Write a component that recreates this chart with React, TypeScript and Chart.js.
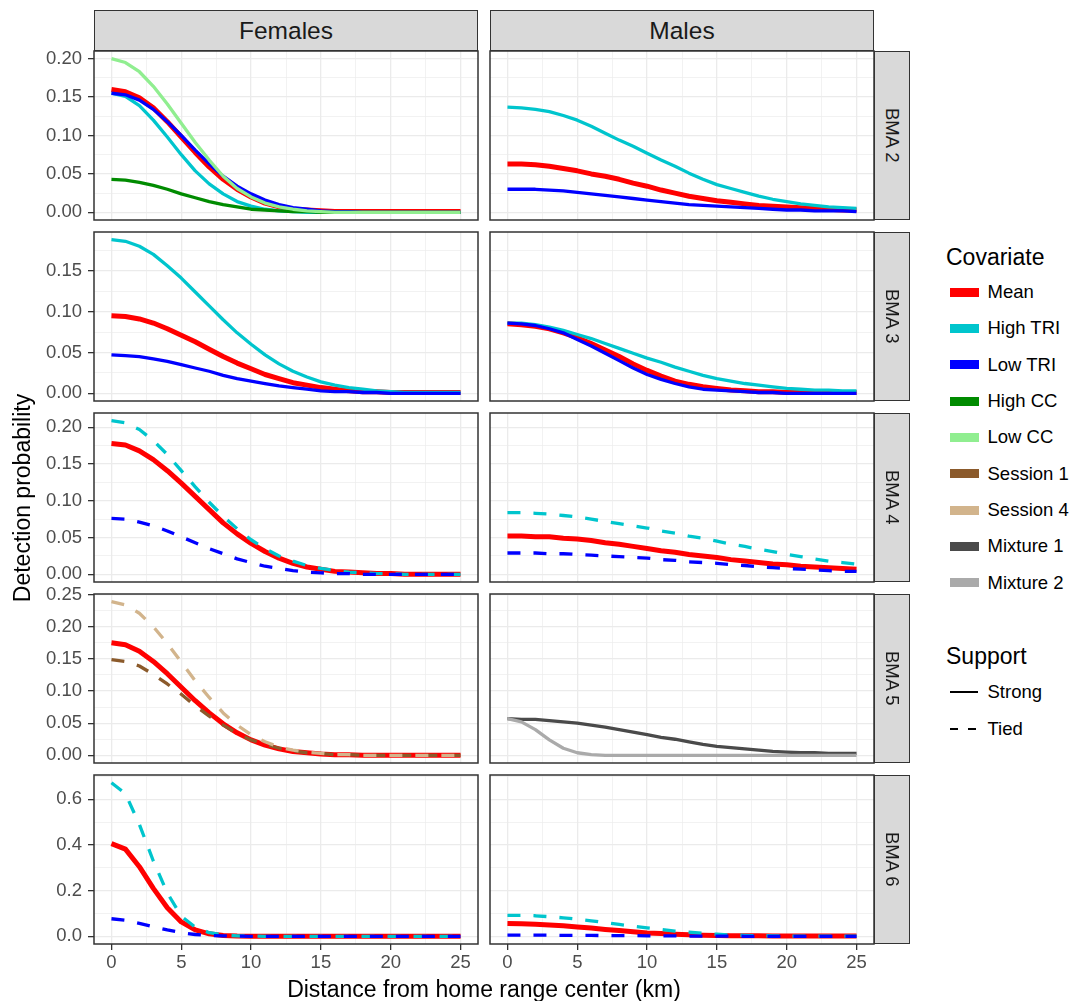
import React, { useEffect, useRef } from "react";
import { Chart, registerables } from "chart.js";

Chart.register(...registerables);

const FONT = "'Liberation Sans', Arial, Helvetica, sans-serif";

// ---------- data ----------
const DIST = [0, 1, 2, 3, 4, 5, 6, 7, 8, 9, 10, 11, 12, 13, 14, 15, 16, 17, 18, 19, 20, 21, 22, 23, 24, 25];

const COVARIATES = ["Mean", "High TRI", "Low TRI", "High CC", "Low CC", "Session 1", "Session 4", "Mixture 1", "Mixture 2"];
const COLORS = ["#FF0000", "#00C5CD", "#0000FF", "#008B00", "#90EE90", "#8B5A2B", "#D2B48C", "#4A4A4A", "#AAAAAA"];
const SUPPORT = ["Strong", "Tied"];
const COL_LABELS = ["Females", "Males"];
const ROW_LABELS = ["BMA 2", "BMA 3", "BMA 4", "BMA 5", "BMA 6"];

const X_MAJOR = [0, 5, 10, 15, 20, 25];
const X_MINOR = [2.5, 7.5, 12.5, 17.5, 22.5];
const Y_MAJOR = [
  [0, 0.05, 0.1, 0.15, 0.2],
  [0, 0.05, 0.1, 0.15],
  [0, 0.05, 0.1, 0.15, 0.2],
  [0, 0.05, 0.1, 0.15, 0.2, 0.25],
  [0, 0.2, 0.4, 0.6],
];
const Y_MINOR = [
  [0.025, 0.075, 0.125, 0.175],
  [0.025, 0.075, 0.125, 0.175],
  [0.025, 0.075, 0.125, 0.175],
  [0.025, 0.075, 0.125, 0.175, 0.225],
  [0.1, 0.3, 0.5, 0.7],
];
const Y_DIGITS = [2, 2, 2, 2, 1];

// Females, BMA 2
const F2_MEAN = [0.160, 0.157, 0.149, 0.136, 0.118, 0.098, 0.078, 0.059, 0.043, 0.030, 0.020, 0.012, 0.007, 0.004, 0.003, 0.002, 0.001, 0.001, 0.001, 0.001, 0.001, 0.001, 0.001, 0.001, 0.001, 0.001];
const F2_HIGH_TRI = [0.155, 0.151, 0.139, 0.120, 0.098, 0.075, 0.054, 0.037, 0.024, 0.014, 0.008, 0.004, 0.002, 0.001, 0, 0, 0, 0, 0, 0, 0, 0, 0, 0, 0, 0];
const F2_LOW_TRI = [0.155, 0.153, 0.146, 0.134, 0.118, 0.100, 0.081, 0.063, 0.047, 0.034, 0.024, 0.016, 0.010, 0.006, 0.004, 0.002, 0.001, 0.001, 0, 0, 0, 0, 0, 0, 0, 0];
const F2_HIGH_CC = [0.043, 0.042, 0.039, 0.035, 0.030, 0.024, 0.019, 0.014, 0.010, 0.007, 0.004, 0.003, 0.002, 0.001, 0.001, 0, 0, 0, 0, 0, 0, 0, 0, 0, 0, 0];
const F2_LOW_CC = [0.200, 0.195, 0.183, 0.164, 0.141, 0.116, 0.091, 0.068, 0.047, 0.031, 0.020, 0.012, 0.007, 0.004, 0.002, 0.001, 0, 0, 0, 0, 0, 0, 0, 0, 0, 0];
// Males, BMA 2
const M2_MEAN = [0.063, 0.063, 0.062, 0.060, 0.057, 0.054, 0.050, 0.047, 0.043, 0.038, 0.034, 0.029, 0.025, 0.021, 0.018, 0.015, 0.013, 0.011, 0.009, 0.008, 0.007, 0.006, 0.005, 0.004, 0.003, 0.003];
const M2_HIGH_TRI = [0.137, 0.136, 0.134, 0.131, 0.126, 0.120, 0.112, 0.103, 0.094, 0.086, 0.077, 0.068, 0.060, 0.051, 0.043, 0.036, 0.031, 0.026, 0.021, 0.017, 0.014, 0.011, 0.009, 0.007, 0.006, 0.005];
const M2_LOW_TRI = [0.030, 0.030, 0.030, 0.029, 0.028, 0.026, 0.024, 0.022, 0.020, 0.018, 0.016, 0.014, 0.012, 0.010, 0.009, 0.008, 0.007, 0.006, 0.005, 0.004, 0.003, 0.003, 0.002, 0.002, 0.002, 0.001];
// Females, BMA 3
const F3_MEAN = [0.095, 0.094, 0.091, 0.086, 0.079, 0.071, 0.063, 0.054, 0.045, 0.037, 0.030, 0.023, 0.018, 0.013, 0.010, 0.007, 0.005, 0.003, 0.002, 0.002, 0.001, 0.001, 0.001, 0.001, 0.001, 0.001];
const F3_HIGH_TRI = [0.188, 0.186, 0.180, 0.170, 0.156, 0.141, 0.124, 0.107, 0.090, 0.074, 0.060, 0.047, 0.036, 0.027, 0.020, 0.014, 0.010, 0.007, 0.005, 0.003, 0.002, 0.001, 0.001, 0.001, 0.001, 0.001];
const F3_LOW_TRI = [0.047, 0.046, 0.045, 0.042, 0.039, 0.035, 0.031, 0.027, 0.022, 0.018, 0.015, 0.012, 0.009, 0.007, 0.005, 0.003, 0.002, 0.002, 0.001, 0.001, 0, 0, 0, 0, 0, 0];
// Males, BMA 3
const M3_MEAN = [0.085, 0.084, 0.082, 0.079, 0.074, 0.068, 0.061, 0.053, 0.045, 0.036, 0.028, 0.021, 0.015, 0.011, 0.008, 0.006, 0.004, 0.003, 0.002, 0.002, 0.001, 0.001, 0.001, 0.001, 0.001, 0.001];
const M3_HIGH_TRI = [0.086, 0.086, 0.084, 0.081, 0.077, 0.072, 0.067, 0.061, 0.055, 0.049, 0.043, 0.038, 0.032, 0.027, 0.022, 0.018, 0.015, 0.012, 0.010, 0.008, 0.006, 0.005, 0.004, 0.004, 0.003, 0.003];
const M3_LOW_TRI = [0.086, 0.085, 0.083, 0.079, 0.074, 0.066, 0.058, 0.049, 0.040, 0.031, 0.023, 0.017, 0.012, 0.008, 0.005, 0.004, 0.003, 0.002, 0.001, 0.001, 0, 0, 0, 0, 0, 0];
// Females, BMA 4
const F4_MEAN = [0.178, 0.176, 0.168, 0.156, 0.141, 0.124, 0.106, 0.088, 0.070, 0.055, 0.042, 0.031, 0.022, 0.015, 0.010, 0.007, 0.004, 0.003, 0.002, 0.001, 0.001, 0, 0, 0, 0, 0];
const F4_HIGH_TRI = [0.209, 0.206, 0.197, 0.182, 0.163, 0.141, 0.119, 0.098, 0.079, 0.062, 0.047, 0.035, 0.025, 0.018, 0.012, 0.008, 0.005, 0.003, 0.002, 0.001, 0.001, 0, 0, 0, 0, 0];
const F4_LOW_TRI = [0.076, 0.075, 0.071, 0.066, 0.059, 0.051, 0.043, 0.035, 0.028, 0.021, 0.016, 0.011, 0.008, 0.005, 0.003, 0.002, 0.001, 0.001, 0, 0, 0, 0, 0, 0, 0, 0];
// Males, BMA 4
const M4_MEAN = [0.052, 0.052, 0.051, 0.051, 0.049, 0.048, 0.046, 0.043, 0.041, 0.038, 0.035, 0.032, 0.030, 0.027, 0.025, 0.023, 0.020, 0.018, 0.016, 0.014, 0.013, 0.011, 0.010, 0.009, 0.008, 0.007];
const M4_HIGH_TRI = [0.084, 0.084, 0.083, 0.082, 0.080, 0.078, 0.075, 0.072, 0.069, 0.066, 0.063, 0.059, 0.056, 0.052, 0.049, 0.045, 0.041, 0.038, 0.034, 0.031, 0.027, 0.024, 0.021, 0.018, 0.016, 0.014];
const M4_LOW_TRI = [0.029, 0.029, 0.029, 0.028, 0.028, 0.027, 0.026, 0.025, 0.024, 0.023, 0.022, 0.020, 0.019, 0.017, 0.016, 0.015, 0.013, 0.012, 0.010, 0.009, 0.008, 0.007, 0.006, 0.005, 0.004, 0.004];
// Females, BMA 5
const F5_MEAN = [0.175, 0.172, 0.162, 0.146, 0.127, 0.106, 0.085, 0.066, 0.049, 0.035, 0.024, 0.016, 0.010, 0.006, 0.004, 0.002, 0.001, 0.001, 0, 0, 0, 0, 0, 0, 0, 0];
const F5_SESSION1 = [0.149, 0.146, 0.139, 0.126, 0.111, 0.095, 0.077, 0.061, 0.047, 0.034, 0.024, 0.017, 0.011, 0.007, 0.004, 0.003, 0.001, 0.001, 0, 0, 0, 0, 0, 0, 0, 0];
const F5_SESSION4 = [0.239, 0.234, 0.221, 0.200, 0.174, 0.145, 0.116, 0.090, 0.066, 0.047, 0.032, 0.021, 0.013, 0.008, 0.005, 0.003, 0.001, 0.001, 0, 0, 0, 0, 0, 0, 0, 0];
// Males, BMA 5
const M5_MIXTURE1 = [0.057, 0.056, 0.056, 0.054, 0.052, 0.050, 0.047, 0.044, 0.040, 0.036, 0.032, 0.028, 0.025, 0.021, 0.017, 0.014, 0.012, 0.010, 0.008, 0.006, 0.005, 0.004, 0.004, 0.003, 0.003, 0.003];
const M5_MIXTURE2 = [0.057, 0.052, 0.040, 0.024, 0.011, 0.004, 0.001, 0, 0, 0, 0, 0, 0, 0, 0, 0, 0, 0, 0, 0, 0, 0, 0, 0, 0, 0];
// Females, BMA 6
const F6_MEAN = [0.406, 0.382, 0.305, 0.210, 0.125, 0.063, 0.028, 0.011, 0.004, 0.001, 0, 0, 0, 0, 0, 0, 0, 0, 0, 0, 0, 0, 0, 0, 0, 0];
const F6_HIGH_TRI = [0.673, 0.625, 0.490, 0.330, 0.190, 0.088, 0.040, 0.016, 0.006, 0.002, 0.001, 0, 0, 0, 0, 0, 0, 0, 0, 0, 0, 0, 0, 0, 0, 0];
const F6_LOW_TRI = [0.077, 0.070, 0.057, 0.042, 0.028, 0.016, 0.008, 0.004, 0.002, 0.001, 0, 0, 0, 0, 0, 0, 0, 0, 0, 0, 0, 0, 0, 0, 0, 0];
// Males, BMA 6
const M6_MEAN = [0.056, 0.055, 0.053, 0.050, 0.046, 0.041, 0.036, 0.030, 0.025, 0.020, 0.015, 0.012, 0.009, 0.007, 0.005, 0.004, 0.003, 0.002, 0.002, 0.001, 0.001, 0.001, 0.001, 0.001, 0.001, 0.001];
const M6_HIGH_TRI = [0.092, 0.092, 0.090, 0.086, 0.081, 0.075, 0.068, 0.060, 0.052, 0.044, 0.037, 0.030, 0.023, 0.018, 0.013, 0.009, 0.006, 0.004, 0.003, 0.002, 0.001, 0.001, 0.001, 0.001, 0.001, 0.001];
const M6_LOW_TRI = [0.005, 0.005, 0.005, 0.005, 0.004, 0.004, 0.004, 0.003, 0.003, 0.003, 0.002, 0.002, 0.002, 0.001, 0.001, 0.001, 0.001, 0, 0, 0, 0, 0, 0, 0, 0, 0];

type Series = { cov: string; values: number[]; tied: boolean };
type PanelSpec = { row: number; col: number; series: Series[] };

const S = (cov: string, values: number[], tied = false): Series => ({ cov, values, tied });

const PANELS: PanelSpec[] = [
  { row: 0, col: 0, series: [S("Mean", F2_MEAN), S("High TRI", F2_HIGH_TRI), S("Low TRI", F2_LOW_TRI), S("High CC", F2_HIGH_CC), S("Low CC", F2_LOW_CC)] },
  { row: 0, col: 1, series: [S("Mean", M2_MEAN), S("High TRI", M2_HIGH_TRI), S("Low TRI", M2_LOW_TRI)] },
  { row: 1, col: 0, series: [S("Mean", F3_MEAN), S("High TRI", F3_HIGH_TRI), S("Low TRI", F3_LOW_TRI)] },
  { row: 1, col: 1, series: [S("Mean", M3_MEAN), S("High TRI", M3_HIGH_TRI), S("Low TRI", M3_LOW_TRI)] },
  { row: 2, col: 0, series: [S("Mean", F4_MEAN), S("High TRI", F4_HIGH_TRI, true), S("Low TRI", F4_LOW_TRI, true)] },
  { row: 2, col: 1, series: [S("Mean", M4_MEAN), S("High TRI", M4_HIGH_TRI, true), S("Low TRI", M4_LOW_TRI, true)] },
  { row: 3, col: 0, series: [S("Mean", F5_MEAN), S("Session 1", F5_SESSION1, true), S("Session 4", F5_SESSION4, true)] },
  { row: 3, col: 1, series: [S("Mixture 1", M5_MIXTURE1), S("Mixture 2", M5_MIXTURE2)] },
  { row: 4, col: 0, series: [S("Mean", F6_MEAN), S("High TRI", F6_HIGH_TRI, true), S("Low TRI", F6_LOW_TRI, true)] },
  { row: 4, col: 1, series: [S("Mean", M6_MEAN), S("High TRI", M6_HIGH_TRI, true), S("Low TRI", M6_LOW_TRI, true)] },
];

// ---------- layout ----------
const COL_LEFT = [94, 490];
const PANEL_W = 384;
const ROW_TOP = [51, 232, 413, 594, 775];
const PANEL_H = 169;
const STRIP_TOP = 10;
const STRIP_H = 41;
const STRIP_W = 36;
const PAD = 14;
const X_AXIS_H = 36;

const near = (list: number[], v: number) => list.some((t) => Math.abs(t - v) < 1e-9);

function rowRange(row: number): [number, number] {
  let lo = Infinity;
  let hi = -Infinity;
  PANELS.filter((p) => p.row === row).forEach((p) =>
    p.series.forEach((s) => s.values.forEach((v) => { lo = Math.min(lo, v); hi = Math.max(hi, v); }))
  );
  const e = (hi - lo) * 0.05;
  return [lo - e, hi + e];
}

function xRange(): [number, number] {
  const lo = Math.min(...DIST);
  const hi = Math.max(...DIST);
  const e = (hi - lo) * 0.05;
  return [lo - e, hi + e];
}

const borderPlugin = {
  id: "panelBorder",
  afterDraw(chart: any) {
    const { ctx, chartArea } = chart;
    const { left, top, right, bottom } = chartArea;
    ctx.save();
    ctx.strokeStyle = "#333333";
    ctx.lineWidth = 1.5;
    ctx.strokeRect(left, top, right - left, bottom - top);
    ctx.restore();
  },
};

const gridOpts = (majors: number[], showTicks: boolean) => ({
  drawTicks: showTicks,
  tickLength: 6,
  tickWidth: 1.3,
  color: "#EBEBEB",
  lineWidth: (c: any) => (c.tick && near(majors, c.tick.value) ? 1.3 : 0.65),
  tickColor: (c: any) => (c.tick && near(majors, c.tick.value) ? "#333333" : "rgba(0,0,0,0)"),
});

function Panel({ spec }: { spec: PanelSpec }) {
  const ref = useRef<HTMLCanvasElement | null>(null);
  const { row, col } = spec;
  const isLeft = col === 0;
  const isBottom = row === ROW_TOP.length - 1;
  const padL = isLeft ? 0 : 3;
  const yW = isLeft ? COL_LEFT[0] : 0;
  const canvasLeft = isLeft ? 0 : COL_LEFT[col] - padL;
  const width = padL + yW + PANEL_W + 3;
  const xH = isBottom ? X_AXIS_H : 0;
  const height = PAD + PANEL_H + xH + 3;
  const top = ROW_TOP[row] - PAD;

  useEffect(() => {
    if (!ref.current) return;
    const [ymin, ymax] = rowRange(row);
    const [xmin, xmax] = xRange();
    const yMaj = Y_MAJOR[row];
    const yTicks = [...yMaj, ...Y_MINOR[row]].filter((v) => v >= ymin && v <= ymax).sort((a, b) => a - b);
    const xTicks = [...X_MAJOR, ...X_MINOR].filter((v) => v >= xmin && v <= xmax).sort((a, b) => a - b);
    const datasets = spec.series
      .map((s) => {
        const ci = COVARIATES.indexOf(s.cov);
        return {
          label: s.cov,
          data: DIST.map((d, i) => ({ x: d, y: s.values[i] })),
          borderColor: COLORS[ci],
          backgroundColor: COLORS[ci],
          borderWidth: s.cov === "Mean" ? 5 : 3.3,
          borderDash: s.tied ? [13, 13] : [],
          borderJoinStyle: "round" as const,
          pointRadius: 0,
          tension: 0,
          fill: false,
        };
      })
      .reverse();
    const tickFont = { family: FONT, size: 18.5 };
    const chart = new Chart(ref.current, {
      type: "line",
      data: { datasets },
      options: {
        animation: false,
        responsive: false,
        devicePixelRatio: 1,
        events: [],
        layout: { padding: { left: padL, right: 3, top: PAD, bottom: 3 } },
        plugins: { legend: { display: false }, tooltip: { enabled: false }, title: { display: false } },
        scales: {
          x: {
            type: "linear",
            min: xmin,
            max: xmax,
            bounds: "data",
            afterBuildTicks: (s: any) => { s.ticks = xTicks.map((v) => ({ value: v })); },
            afterFit: (s: any) => { s.height = xH; s.paddingLeft = 0; s.paddingRight = 0; },
            ticks: {
              display: isBottom,
              autoSkip: false,
              maxRotation: 0,
              minRotation: 0,
              padding: 2,
              color: "#4D4D4D",
              font: tickFont,
              callback: (v: any) => (near(X_MAJOR, Number(v)) ? String(v) : ""),
            },
            grid: gridOpts(X_MAJOR, isBottom),
            border: { display: false },
          },
          y: {
            type: "linear",
            min: ymin,
            max: ymax,
            bounds: "data",
            afterBuildTicks: (s: any) => { s.ticks = yTicks.map((v) => ({ value: v })); },
            afterFit: (s: any) => { s.width = yW; s.paddingTop = 0; s.paddingBottom = 0; },
            ticks: {
              display: isLeft,
              autoSkip: false,
              padding: 6,
              color: "#4D4D4D",
              font: tickFont,
              callback: (v: any) => (near(yMaj, Number(v)) ? Number(v).toFixed(Y_DIGITS[row]) : ""),
            },
            grid: gridOpts(yMaj, isLeft),
            border: { display: false },
          },
        },
      } as any,
      plugins: [borderPlugin],
    });
    return () => chart.destroy();
  }, []);

  return (
    <canvas
      ref={ref}
      width={width}
      height={height}
      style={{ position: "absolute", left: canvasLeft, top, width, height }}
    />
  );
}

const textBase: React.CSSProperties = {
  position: "absolute",
  fontFamily: FONT,
  whiteSpace: "nowrap",
};

export default function App() {
  const legendStart = 292;
  const legendStep = 36.35;
  return (
    <div style={{ position: "absolute", left: 0, top: 0, width: 1084, height: 1001, background: "#FFFFFF", overflow: "hidden" }}>
      {PANELS.map((p) => (
        <Panel key={`${p.row}-${p.col}`} spec={p} />
      ))}

      {COL_LABELS.map((lab, c) => (
        <div
          key={lab}
          style={{
            ...textBase,
            left: COL_LEFT[c],
            top: STRIP_TOP,
            width: PANEL_W,
            height: STRIP_H,
            boxSizing: "border-box",
            background: "#D9D9D9",
            border: "1.5px solid #333333",
            color: "#1A1A1A",
            fontSize: 24.5,
            display: "flex",
            alignItems: "center",
            justifyContent: "center",
          }}
        >
          {lab}
        </div>
      ))}

      {ROW_LABELS.map((lab, r) => (
        <div
          key={lab}
          style={{
            ...textBase,
            left: COL_LEFT[1] + PANEL_W,
            top: ROW_TOP[r],
            width: STRIP_W,
            height: PANEL_H,
            boxSizing: "border-box",
            background: "#D9D9D9",
            border: "1.5px solid #333333",
            color: "#1A1A1A",
            fontSize: 18.5,
            display: "flex",
            alignItems: "center",
            justifyContent: "center",
          }}
        >
          <span style={{ writingMode: "vertical-rl", lineHeight: 1 }}>{lab}</span>
        </div>
      ))}

      {/* axis titles */}
      <div
        style={{
          ...textBase,
          left: 21.5 - 200,
          top: 497.5 - 15,
          width: 400,
          height: 30,
          lineHeight: "30px",
          textAlign: "center",
          fontSize: 23,
          color: "#000000",
          transform: "rotate(-90deg)",
        }}
      >
        Detection probability
      </div>
      <div
        style={{
          ...textBase,
          left: 484 - 300,
          top: 988.5 - 15,
          width: 600,
          height: 30,
          lineHeight: "30px",
          textAlign: "center",
          fontSize: 23,
          color: "#000000",
        }}
      >
        Distance from home range center (km)
      </div>

      {/* legend: Covariate */}
      <div style={{ ...textBase, left: 946, top: 256.7 - 15, height: 30, lineHeight: "30px", fontSize: 23, color: "#000" }}>
        Covariate
      </div>
      {COVARIATES.map((c, i) => {
        const cy = legendStart + i * legendStep;
        return (
          <React.Fragment key={c}>
            <div style={{ position: "absolute", left: 950, top: cy - 4.5, width: 29, height: 9, background: COLORS[i] }} />
            <div style={{ ...textBase, left: 987.5, top: cy - 12, height: 24, lineHeight: "24px", fontSize: 18.5, color: "#000" }}>
              {c}
            </div>
          </React.Fragment>
        );
      })}

      {/* legend: Support */}
      <div style={{ ...textBase, left: 946, top: 655.5 - 15, height: 30, lineHeight: "30px", fontSize: 23, color: "#000" }}>
        Support
      </div>
      {SUPPORT.map((s, i) => {
        const cy = 692.3 + i * 36.5;
        return (
          <React.Fragment key={s}>
            <svg style={{ position: "absolute", left: 948, top: cy - 6, width: 34, height: 12 }} width={34} height={12}>
              <line
                x1={2}
                y1={6}
                x2={30}
                y2={6}
                stroke="#000"
                strokeWidth={2}
                strokeDasharray={i === 1 ? "8 10" : undefined}
              />
            </svg>
            <div style={{ ...textBase, left: 987.5, top: cy - 12, height: 24, lineHeight: "24px", fontSize: 18.5, color: "#000" }}>
              {s}
            </div>
          </React.Fragment>
        );
      })}
    </div>
  );
}
